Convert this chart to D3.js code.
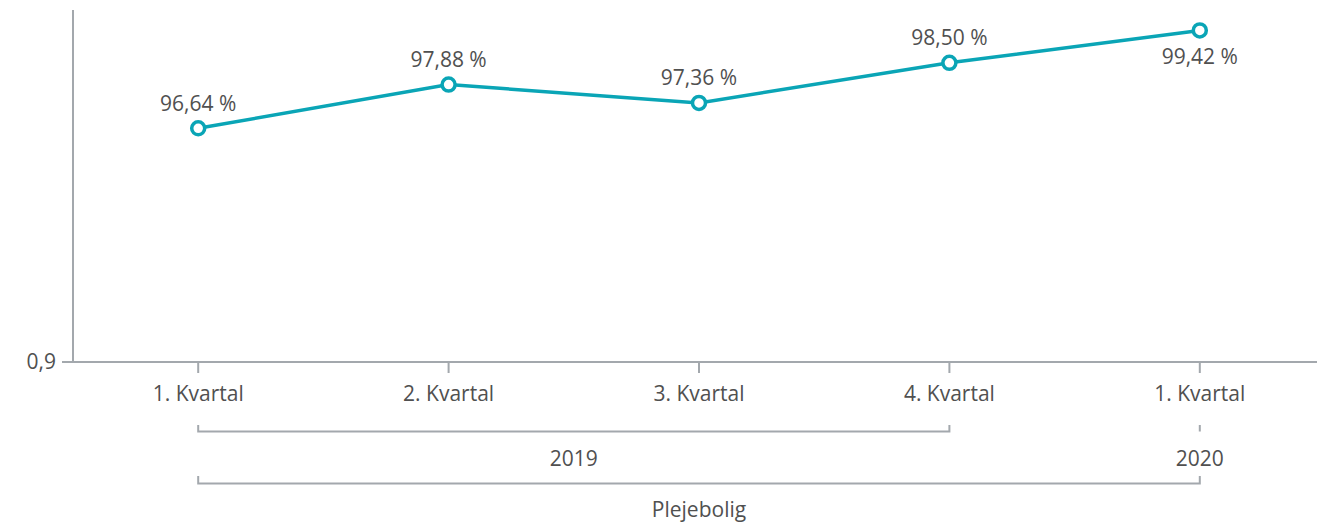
<!DOCTYPE html>
<html><head><meta charset="utf-8">
<script src="https://cdn.jsdelivr.net/npm/d3@7"></script>
<style>
html,body{margin:0;padding:0;background:#fff;}
svg text{font-family:"Open Sans","Noto Sans",sans-serif;fill:#505050;}
</style></head>
<body><svg id="c" width="1317" height="525"></svg>
<script>
const categories = ["1. Kvartal","2. Kvartal","3. Kvartal","4. Kvartal","1. Kvartal"];
const keys = ["2019Q1","2019Q2","2019Q3","2019Q4","2020Q1"];
const values = [0.9664, 0.9788, 0.9736, 0.9850, 0.9942];
const labelPos = ["above","above","above","above","below"];
const years = [{label:"2019", from:0, to:3},{label:"2020", from:4, to:4}];
const topGroup = "Plejebolig";
const yTicks = [0.9];

const svg = d3.select("#c");
const axisColor = "#a3a8ad";
const lineColor = "#0aa5b6";
const fs = 21;
const x = d3.scaleBand().domain(keys).range([73, 1325]).paddingInner(0).paddingOuter(0);
const cx = k => x(k) + x.bandwidth()/2;
const y = d3.scaleLinear().domain([0.9, 1.0]).range([362, 10]);

// y axis
svg.append("line").attr("x1",73).attr("x2",73).attr("y1",10).attr("y2",362)
  .attr("stroke",axisColor).attr("stroke-width",2);
svg.selectAll(".yt").data(yTicks).enter().append("line")
  .attr("x1",62).attr("x2",73).attr("y1",d=>y(d)).attr("y2",d=>y(d))
  .attr("stroke",axisColor).attr("stroke-width",2);
svg.selectAll(".yl").data(yTicks).enter().append("text")
  .attr("x",56).attr("y",d=>y(d)).attr("dy","0.35em").attr("text-anchor","end")
  .attr("font-size",fs).text(d=>d3.format(".1f")(d).replace(".",","));

// x axis
svg.append("line").attr("x1",62).attr("x2",1317).attr("y1",362).attr("y2",362)
  .attr("stroke",axisColor).attr("stroke-width",2);
svg.selectAll(".xt").data(keys).enter().append("line")
  .attr("x1",d=>cx(d)).attr("x2",d=>cx(d)).attr("y1",362).attr("y2",373)
  .attr("stroke",axisColor).attr("stroke-width",2);
svg.selectAll(".xl").data(keys).enter().append("text")
  .attr("x",d=>cx(d)).attr("y",394).attr("dy","0.35em").attr("text-anchor","middle")
  .attr("font-size",fs).text((d,i)=>categories[i]);

// year brackets
years.forEach(g=>{
  const x1 = cx(keys[g.from]), x2 = cx(keys[g.to]);
  const p = d3.path();
  p.moveTo(x1,425); p.lineTo(x1,431.5); p.lineTo(x2,431.5); p.lineTo(x2,425);
  svg.append("path").attr("d",p.toString()).attr("fill","none").attr("stroke",axisColor).attr("stroke-width",2);
  svg.append("text").attr("x",(x1+x2)/2).attr("y",459).attr("dy","0.35em").attr("text-anchor","middle")
    .attr("font-size",fs).text(g.label);
});
// top group bracket
{
  const x1 = cx(keys[0]), x2 = cx(keys[keys.length-1]);
  const p = d3.path();
  p.moveTo(x1,476); p.lineTo(x1,483.5); p.lineTo(x2,483.5); p.lineTo(x2,476);
  svg.append("path").attr("d",p.toString()).attr("fill","none").attr("stroke",axisColor).attr("stroke-width",2);
  svg.append("text").attr("x",(x1+x2)/2).attr("y",510).attr("dy","0.35em").attr("text-anchor","middle")
    .attr("font-size",fs).text(topGroup);
}

// line
const line = d3.line().x((d,i)=>cx(keys[i])).y(d=>y(d));
svg.append("path").datum(values).attr("d",line).attr("fill","none")
  .attr("stroke",lineColor).attr("stroke-width",3.5);
svg.selectAll(".pt").data(values).enter().append("circle")
  .attr("cx",(d,i)=>cx(keys[i])).attr("cy",d=>y(d)).attr("r",6.5)
  .attr("fill","#fff").attr("stroke",lineColor).attr("stroke-width",3.5);
svg.selectAll(".dl").data(values).enter().append("text")
  .attr("x",(d,i)=>cx(keys[i]))
  .attr("y",(d,i)=>y(d) + (labelPos[i]==="above" ? -25 : 26))
  .attr("dy","0.35em").attr("text-anchor","middle").attr("font-size",fs)
  .text(d=>d3.format(".2f")(d*100).replace(".",",")+" %");
</script></body></html>
